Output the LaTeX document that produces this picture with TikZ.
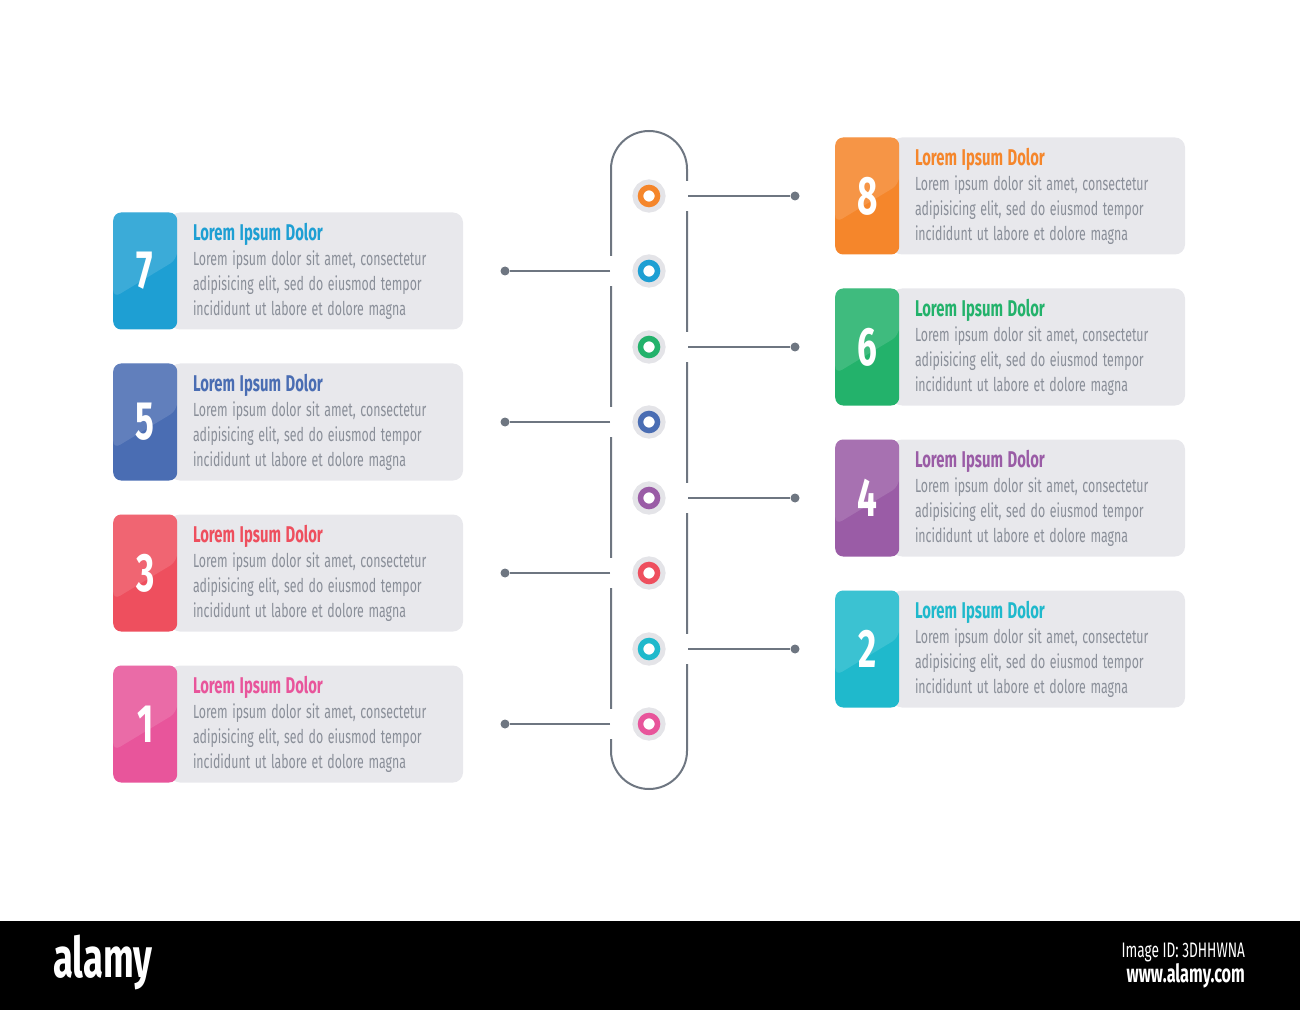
\documentclass[tikz,border=0pt]{standalone}
\usepackage{fontspec}
\setmainfont{Fira Sans}[FakeStretch=0.65]
\usetikzlibrary{positioning,calc}

\definecolor{boxgray}{HTML}{E8E8EC}
\definecolor{bodygray}{HTML}{8A8F99}
\definecolor{linegray}{HTML}{6E7681}
\definecolor{halogray}{HTML}{E4E4E8}
\definecolor{cOne}{HTML}{E8559B}
\definecolor{cTwo}{HTML}{1FB9CC}
\definecolor{cThree}{HTML}{EE4F5E}
\definecolor{cFour}{HTML}{9A5CA6}
\definecolor{cFive}{HTML}{4A6DB3}
\definecolor{cSix}{HTML}{23B26B}
\definecolor{cSeven}{HTML}{1E9FD3}
\definecolor{cEight}{HTML}{F5862B}

\begin{document}
\begin{tikzpicture}[x=0.5pt, y=-0.5pt,
  infobox/.style={fill=boxgray, rounded corners=5pt, minimum width=146.5pt,
    minimum height=58.5pt, text width=123.5pt, inner xsep=11.5pt, align=left,
    text=bodygray, font=\fontsize{9.5}{12.5}\selectfont,
    execute at begin node={\spaceskip=2.3pt plus 0.5pt\relax}},
  numbox/.style={rounded corners=4pt, minimum width=32pt, minimum height=58.5pt,
    inner sep=0pt, text=white, font=\fontsize{27}{27}\selectfont\bfseries,
    path picture={\fill[white, opacity=0.13]
      (path picture bounding box.north west) -- (path picture bounding box.north east)
      -- ($(path picture bounding box.north east)!0.4!(path picture bounding box.south east)$)
      -- ($(path picture bounding box.north west)!0.73!(path picture bounding box.south west)$)
      -- cycle;}},
  pill/.style={draw=linegray, line width=1pt, rounded corners=19pt,
    minimum width=38pt, minimum height=329pt},
  marker/.style={circle, fill=white, line width=2.75pt, minimum size=8.5pt,
    inner sep=0pt, preaction={draw=halogray, line width=8pt}},
  enddot/.style={circle, fill=linegray, inner sep=0pt, minimum size=4.5pt},
  link/.style={draw=linegray, line width=1pt},
  gap/.style={draw=white, line width=2.5pt}
]

\useasboundingbox (0,0) rectangle (1300,1010);

% Central track
\node[pill] (pill) at (649,460) {};

% Markers on the track
\node[marker, draw=cEight] (m8) at (649,196) {};
\node[marker, draw=cSeven] (m7) at (649,271) {};
\node[marker, draw=cSix] (m6) at (649,347) {};
\node[marker, draw=cFive] (m5) at (649,422) {};
\node[marker, draw=cFour] (m4) at (649,498) {};
\node[marker, draw=cThree] (m3) at (649,573) {};
\node[marker, draw=cTwo] (m2) at (649,649) {};
\node[marker, draw=cOne] (m1) at (649,724) {};

% Connector end dots
\node[enddot] (e8) at (795,196) {};
\node[enddot] (e6) at (795,347) {};
\node[enddot] (e4) at (795,498) {};
\node[enddot] (e2) at (795,649) {};
\node[enddot] (e7) at (505,271) {};
\node[enddot] (e5) at (505,422) {};
\node[enddot] (e3) at (505,573) {};
\node[enddot] (e1) at (505,724) {};

% Gaps in the track where connectors leave
\draw[gap] ([yshift=7.5pt]pill.east |- m8) -- ([yshift=-7.5pt]pill.east |- m8);
\draw[gap] ([yshift=7.5pt]pill.east |- m6) -- ([yshift=-7.5pt]pill.east |- m6);
\draw[gap] ([yshift=7.5pt]pill.east |- m4) -- ([yshift=-7.5pt]pill.east |- m4);
\draw[gap] ([yshift=7.5pt]pill.east |- m2) -- ([yshift=-7.5pt]pill.east |- m2);
\draw[gap] ([yshift=7.5pt]pill.west |- m7) -- ([yshift=-7.5pt]pill.west |- m7);
\draw[gap] ([yshift=7.5pt]pill.west |- m5) -- ([yshift=-7.5pt]pill.west |- m5);
\draw[gap] ([yshift=7.5pt]pill.west |- m3) -- ([yshift=-7.5pt]pill.west |- m3);
\draw[gap] ([yshift=7.5pt]pill.west |- m1) -- ([yshift=-7.5pt]pill.west |- m1);

% Connectors
\draw[link] (pill.east |- m8) -- (e8);
\draw[link] (pill.east |- m6) -- (e6);
\draw[link] (pill.east |- m4) -- (e4);
\draw[link] (pill.east |- m2) -- (e2);
\draw[link] (pill.west |- m7) -- (e7);
\draw[link] (pill.west |- m5) -- (e5);
\draw[link] (pill.west |- m3) -- (e3);
\draw[link] (pill.west |- m1) -- (e1);

% Card 7
\node[infobox] (b7) at (316.5,271) {{\color{cSeven}\bfseries\fontsize{11.4}{12.5}\selectfont Lorem Ipsum Dolor}\\
  Lorem ipsum dolor sit amet, consectetur\\adipisicing elit, sed do eiusmod tempor\\incididunt ut labore et dolore magna};
\node[numbox, fill=cSeven, left=-4pt of b7.west] (n7) {7};

% Card 5
\node[infobox] (b5) at (316.5,422) {{\color{cFive}\bfseries\fontsize{11.4}{12.5}\selectfont Lorem Ipsum Dolor}\\
  Lorem ipsum dolor sit amet, consectetur\\adipisicing elit, sed do eiusmod tempor\\incididunt ut labore et dolore magna};
\node[numbox, fill=cFive, left=-4pt of b5.west] (n5) {5};

% Card 3
\node[infobox] (b3) at (316.5,573) {{\color{cThree}\bfseries\fontsize{11.4}{12.5}\selectfont Lorem Ipsum Dolor}\\
  Lorem ipsum dolor sit amet, consectetur\\adipisicing elit, sed do eiusmod tempor\\incididunt ut labore et dolore magna};
\node[numbox, fill=cThree, left=-4pt of b3.west] (n3) {3};

% Card 1
\node[infobox] (b1) at (316.5,724) {{\color{cOne}\bfseries\fontsize{11.4}{12.5}\selectfont Lorem Ipsum Dolor}\\
  Lorem ipsum dolor sit amet, consectetur\\adipisicing elit, sed do eiusmod tempor\\incididunt ut labore et dolore magna};
\node[numbox, fill=cOne, left=-4pt of b1.west] (n1) {1};

% Card 8
\node[infobox] (b8) at (1038.5,196) {{\color{cEight}\bfseries\fontsize{11.4}{12.5}\selectfont Lorem Ipsum Dolor}\\
  Lorem ipsum dolor sit amet, consectetur\\adipisicing elit, sed do eiusmod tempor\\incididunt ut labore et dolore magna};
\node[numbox, fill=cEight, left=-4pt of b8.west] (n8) {8};

% Card 6
\node[infobox] (b6) at (1038.5,347) {{\color{cSix}\bfseries\fontsize{11.4}{12.5}\selectfont Lorem Ipsum Dolor}\\
  Lorem ipsum dolor sit amet, consectetur\\adipisicing elit, sed do eiusmod tempor\\incididunt ut labore et dolore magna};
\node[numbox, fill=cSix, left=-4pt of b6.west] (n6) {6};

% Card 4
\node[infobox] (b4) at (1038.5,498) {{\color{cFour}\bfseries\fontsize{11.4}{12.5}\selectfont Lorem Ipsum Dolor}\\
  Lorem ipsum dolor sit amet, consectetur\\adipisicing elit, sed do eiusmod tempor\\incididunt ut labore et dolore magna};
\node[numbox, fill=cFour, left=-4pt of b4.west] (n4) {4};

% Card 2
\node[infobox] (b2) at (1038.5,649) {{\color{cTwo}\bfseries\fontsize{11.4}{12.5}\selectfont Lorem Ipsum Dolor}\\
  Lorem ipsum dolor sit amet, consectetur\\adipisicing elit, sed do eiusmod tempor\\incididunt ut labore et dolore magna};
\node[numbox, fill=cTwo, left=-4pt of b2.west] (n2) {2};

% Bottom band
\fill[black] (0,921) rectangle (1300,1010);
\node[text=white, anchor=west, font=\fontsize{28}{28}\selectfont\bfseries] (logo) at (46,962) {alamy};
\node[text=white, anchor=east, font=\fontsize{10.5}{12}\selectfont] (imgid) at (1252,952) {Image ID: 3DHHWNA};
\node[text=white, anchor=east, font=\fontsize{12.5}{14}\selectfont\bfseries] (web) at (1252,976) {www.alamy.com};

\end{tikzpicture}
\end{document}
